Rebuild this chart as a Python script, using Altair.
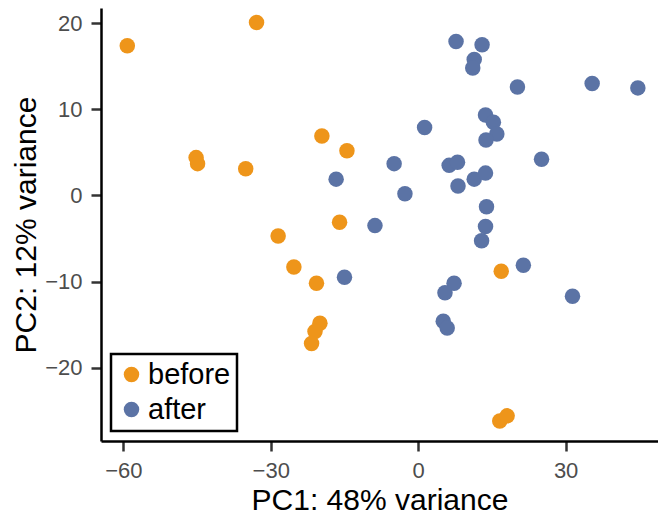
import altair as alt
import pandas as pd

before_x = [-59.2, -32.9, -45.2, -44.9, -35.1, -19.6, -14.5, -16.0, -28.5, -25.3,
            -20.7, -20.0, -21.0, -21.7, 16.9, 16.6, 18.1]
before_y = [17.4, 20.1, 4.4, 3.7, 3.1, 6.9, 5.2, -3.1, -4.7, -8.3,
            -10.2, -14.85, -15.8, -17.2, -8.8, -26.2, -25.6]

after_x = [7.7, 13.0, 11.4, 11.1, 20.2, 35.4, 44.7, 13.7, 15.3, 16.0,
           13.8, 1.3, -4.9, 6.3, 8.0, 11.4, 13.7, 8.1, 25.1, -16.7,
           -2.7, 13.9, 13.7, 12.9, -8.8, -15.0, 21.4, 7.3, 5.45, 31.4,
           5.1, 5.9]
after_y = [17.9, 17.5, 15.8, 14.8, 12.6, 13.0, 12.5, 9.35, 8.5, 7.15,
           6.45, 7.9, 3.7, 3.5, 3.85, 1.9, 2.6, 1.1, 4.2, 1.9,
           0.2, -1.3, -3.6, -5.25, -3.5, -9.5, -8.1, -10.2, -11.3, -11.7,
           -14.6, -15.4]

groups = ["before", "after"]
colors = ["#EE951A", "#5B73A5"]
x_ticks = [-60, -30, 0, 30]
y_ticks = [-20, -10, 0, 10, 20]

df = pd.DataFrame({
    "PC1": before_x + after_x,
    "PC2": before_y + after_y,
    "group": ["before"] * len(before_x) + ["after"] * len(after_x),
})

font = "Liberation Sans"

chart = alt.Chart(df).mark_circle(size=240, opacity=1).encode(
    x=alt.X("PC1:Q", scale=alt.Scale(domain=[-64.55, 48.8], nice=False, zero=False),
            axis=alt.Axis(values=x_ticks, title="PC1: 48% variance")),
    y=alt.Y("PC2:Q", scale=alt.Scale(domain=[-28.52, 21.78], nice=False, zero=False),
            axis=alt.Axis(values=y_ticks, title="PC2: 12% variance")),
    color=alt.Color("group:N", scale=alt.Scale(domain=groups, range=colors),
                    legend=alt.Legend(title=None, orient="bottom-left", offset=10,
                                      labelFontSize=29, labelColor="black", labelFont=font,
                                      symbolSize=240, symbolType="circle", symbolOpacity=1,
                                      rowPadding=5, padding=6, labelOffset=2,
                                      strokeColor="black", fillColor="white")),
).properties(
    width=557, height=433,
    autosize=alt.AutoSizeParams(type="none"),
    padding={"left": 93, "top": 0, "right": 0, "bottom": 82},
).configure_view(
    stroke=None
).configure_axis(
    grid=False, domainColor="black", domainWidth=2.5,
    tickColor="#333333", tickWidth=2.5, tickSize=10,
    labelColor="#4D4D4D", labelFontSize=22, labelFont=font, labelPadding=9,
    titleColor="black", titleFontSize=30, titleFont=font, titleFontWeight="normal",
).configure_axisX(
    titlePadding=4
).configure_axisY(
    titlePadding=3
).configure_legend(
    strokeWidth=2.5
)

chart.save("out.html", embed_options={"renderer": "svg", "actions": False})
